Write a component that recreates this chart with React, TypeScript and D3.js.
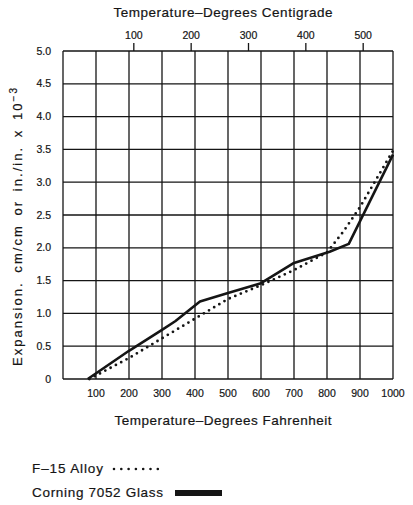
import * as d3 from 'd3';

// Fahrenheit ticks along the bottom, 0.5 steps up the side
const fahrenheitTicks = [100, 200, 300, 400, 500, 600, 700, 800, 900, 1000];
const centigradeTicks = [100, 200, 300, 400, 500];
const expansionTicks = [0, 0.5, 1.0, 1.5, 2.0, 2.5, 3.0, 3.5, 4.0, 4.5, 5.0];

// F-15 Alloy (dotted)
const alloyTemp = [80, 200, 300, 400, 500, 600, 700, 800, 850, 900, 1000];
const alloyExp = [0, 0.32, 0.62, 0.92, 1.22, 1.43, 1.66, 1.93, 2.25, 2.62, 3.48];

// Corning 7052 Glass (solid)
const glassTemp = [75, 200, 300, 340, 415, 500, 600, 700, 808, 866, 1000];
const glassExp = [0, 0.43, 0.75, 0.88, 1.18, 1.31, 1.46, 1.77, 1.94, 2.06, 3.42];

const W = 413;
const H = 505;
const margin = { top: 51, right: 20, bottom: 126, left: 63 };
const ink = '#151515';
const font = '"Liberation Sans", Arial, sans-serif';

// scanned print looks heavier than a plain font, so add a hairline outline
const heavy = { stroke: ink, strokeWidth: 0.2 };

export default function App() {
  const innerW = W - margin.left - margin.right;
  const innerH = H - margin.top - margin.bottom;

  const x = d3.scaleLinear().domain([0, 1000]).range([0, innerW]);
  // top axis is not a clean conversion in the original, fitted to its ticks
  const xc = d3.scaleLinear().domain([-23.5, 552]).range([0, innerW]);
  const y = d3.scaleLinear().domain([0, 5]).range([innerH, 0]);

  const line = d3
    .line<[number, number]>()
    .x((d) => x(d[0]))
    .y((d) => y(d[1]));

  const alloy = alloyTemp.map((t, i) => [t, alloyExp[i]] as [number, number]);
  const glass = glassTemp.map((t, i) => [t, glassExp[i]] as [number, number]);

  const vGrid = d3.range(0, 1001, 100);

  return (
    <svg
      width={W}
      height={H}
      style={{ position: 'absolute', left: 0, top: 0, background: '#fff' }}
      fontFamily={font}
      fill={ink}
    >
      <text x={223} y={17} fontSize={13.5} textAnchor="middle" textLength={219} lengthAdjust="spacing" {...heavy}>
        Temperature–Degrees Centigrade
      </text>

      <g transform={`translate(${margin.left},${margin.top})`}>
        {/* grid */}
        {vGrid.map((v) => (
          <line key={'v' + v} x1={x(v)} x2={x(v)} y1={0} y2={innerH} stroke={ink} strokeWidth={1.3} />
        ))}
        {expansionTicks.map((v) => (
          <line key={'h' + v} x1={0} x2={innerW} y1={y(v)} y2={y(v)} stroke={ink} strokeWidth={1.3} />
        ))}

        {/* top axis */}
        {centigradeTicks.map((c) => (
          <g key={'c' + c} transform={`translate(${xc(c)},0)`}>
            <line y1={0} y2={-8} stroke={ink} strokeWidth={1.3} />
            <text y={-12} fontSize={10.5} textAnchor="middle" {...heavy}>
              {c}
            </text>
          </g>
        ))}

        {/* bottom labels */}
        {fahrenheitTicks.map((f) => (
          <text key={'f' + f} x={x(f)} y={innerH + 18} fontSize={10.5} textAnchor="middle" {...heavy}>
            {f}
          </text>
        ))}

        {/* left labels */}
        {expansionTicks.map((v) => (
          <text key={'y' + v} x={-12} y={y(v)} dy="0.35em" fontSize={10.5} textAnchor="end" {...heavy}>
            {v === 0 ? '0' : v.toFixed(1)}
          </text>
        ))}

        <path d={line(glass) ?? ''} fill="none" stroke={ink} strokeWidth={2.6} strokeLinejoin="round" />
        <path
          d={line(alloy) ?? ''}
          fill="none"
          stroke={ink}
          strokeWidth={2.8}
          strokeLinecap="round"
          strokeDasharray="0 6"
        />
      </g>

      <text x={223} y={425} fontSize={13.5} textAnchor="middle" textLength={217} lengthAdjust="spacing" {...heavy}>
        Temperature–Degrees Fahrenheit
      </text>

      <text
        transform={`translate(22,227) rotate(-90)`}
        fontSize={13}
        textAnchor="middle"
        textLength={278}
        lengthAdjust="spacing"
        wordSpacing={3}
        {...heavy}
      >
        Expansion. cm/cm or in./in. x 10
        <tspan dy={-5} fontSize={10}>
          −3
        </tspan>
      </text>

      {/* legend */}
      <text x={32} y={473} fontSize={13.5} textLength={71} lengthAdjust="spacing" {...heavy}>
        F–15 Alloy
      </text>
      <line x1={114} x2={158} y1={469} y2={469} stroke={ink} strokeWidth={2.6} strokeLinecap="round" strokeDasharray="0 7.3" />

      <text x={32} y={497} fontSize={13.5} textLength={131} lengthAdjust="spacing" {...heavy}>
        Corning 7052 Glass
      </text>
      <rect x={175} y={490} width={47} height={6} fill={ink} />
    </svg>
  );
}
